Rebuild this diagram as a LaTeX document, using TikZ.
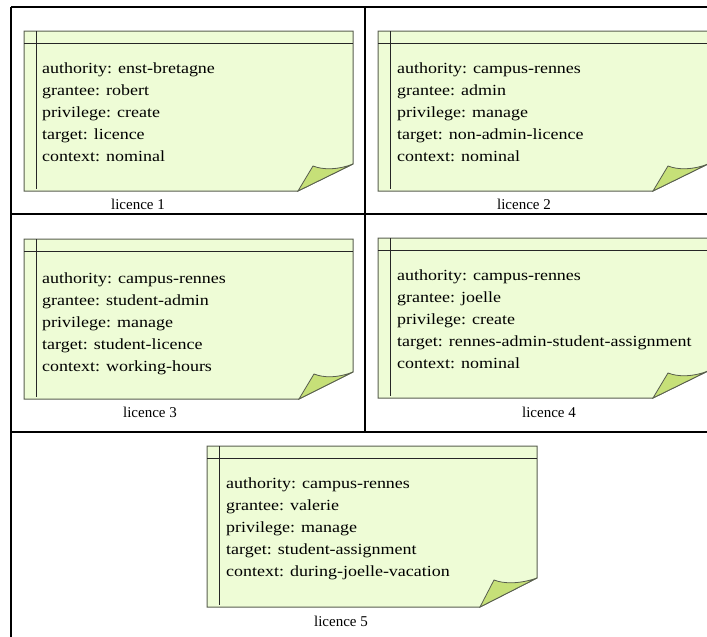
\documentclass[tikz,border=0pt]{standalone}
\usepackage{fontspec}
\setmainfont{Liberation Serif}
\newfontfamily\notefont[FakeStretch=1.16]{Liberation Serif}
\usepackage{tikz}

\definecolor{notefill}{RGB}{238,252,214}
\definecolor{foldfill}{RGB}{198,224,120}
\definecolor{notedraw}{RGB}{88,94,78}

\begin{document}
\begin{tikzpicture} [x = 1pt, y = -1pt,
  cell/.style = {line width = 1.1pt, black},
  notebody/.style = {draw = notedraw, fill = notefill, line width = 1pt},
  noteline/.style = {draw = black!85, line width = 1pt},
  notefold/.style = {draw = notedraw, fill = foldfill, line width = 0.8pt},
  notetext/.style = {anchor = north west, inner sep = 0pt, align = left, font = \notefont\fontsize{15.5}{22}\selectfont},
  notelabel/.style = {anchor = base, inner sep = 0pt, font = \fontsize{15}{18}\selectfont}]
\useasboundingbox (0.0, 0.0) rectangle (707.0, 637.0);
\clip (0.0, 0.0) rectangle (707.0, 637.0);

% table
\draw[cell] (11.0, 7.0) -- (720.0, 7.0);
\draw[cell] (11.0, 7.0) -- (11.0, 650.0);
\draw[cell] (365.0, 7.0) -- (365.0, 432.0);
\draw[cell] (11.0, 214.0) -- (720.0, 214.0);
\draw[cell] (11.0, 432.0) -- (720.0, 432.0);

% licence 1
\draw[notebody] (24.0, 31.0) -- (353.0, 31.0) -- (353.0, 164.0) -- (298.0, 191.0) -- (24.0, 191.0) -- cycle;
\draw[noteline] (24.0, 43.0) -- (353.0, 43.0);
\draw[noteline] (36.0, 31.0) -- (36.0, 189.0);
\draw[notefold] (298.0, 191.0) -- (313.0, 166.0) .. controls (323.0, 170.0) and (338.0, 170.0) .. (353.0, 164.0) -- cycle;
\node[notetext] (lic1) at (42.0, 62.3) {authority: enst-bretagne\\grantee: robert\\privilege: create\\target: licence\\context: nominal};
\node[notelabel] (cap1) at (138.0, 209.0) {licence 1};

% licence 2
\draw[notebody] (378.0, 31.0) -- (708.0, 31.0) -- (708.0, 164.0) -- (653.0, 191.0) -- (378.0, 191.0) -- cycle;
\draw[noteline] (378.0, 43.0) -- (708.0, 43.0);
\draw[noteline] (390.0, 31.0) -- (390.0, 189.0);
\draw[notefold] (653.0, 191.0) -- (668.0, 166.0) .. controls (678.0, 170.0) and (693.0, 170.0) .. (708.0, 164.0) -- cycle;
\node[notetext] (lic2) at (397.0, 62.3) {authority: campus-rennes\\grantee: admin\\privilege: manage\\target: non-admin-licence\\context: nominal};
\node[notelabel] (cap2) at (524.0, 209.0) {licence 2};

% licence 3
\draw[notebody] (24.0, 239.0) -- (353.0, 239.0) -- (353.0, 372.0) -- (299.0, 399.0) -- (24.0, 399.0) -- cycle;
\draw[noteline] (24.0, 251.0) -- (353.0, 251.0);
\draw[noteline] (36.0, 239.0) -- (36.0, 397.0);
\draw[notefold] (299.0, 399.0) -- (314.0, 374.0) .. controls (324.0, 378.0) and (338.0, 378.0) .. (353.0, 372.0) -- cycle;
\node[notetext] (lic3) at (42.0, 272.6) {authority: campus-rennes\\grantee: student-admin\\privilege: manage\\target: student-licence\\context: working-hours};
\node[notelabel] (cap3) at (150.0, 417.0) {licence 3};

% licence 4
\draw[notebody] (378.0, 238.0) -- (708.0, 238.0) -- (708.0, 371.0) -- (653.0, 398.0) -- (378.0, 398.0) -- cycle;
\draw[noteline] (378.0, 250.0) -- (708.0, 250.0);
\draw[noteline] (390.0, 238.0) -- (390.0, 396.0);
\draw[notefold] (653.0, 398.0) -- (668.0, 373.0) .. controls (678.0, 377.0) and (693.0, 377.0) .. (708.0, 371.0) -- cycle;
\node[notetext] (lic4) at (397.0, 269.3) {authority: campus-rennes\\grantee: joelle\\privilege: create\\target: rennes-admin-student-assignment\\context: nominal};
\node[notelabel] (cap4) at (549.0, 417.0) {licence 4};

% licence 5
\draw[notebody] (207.0, 446.0) -- (537.0, 446.0) -- (537.0, 578.0) -- (480.0, 607.0) -- (207.0, 607.0) -- cycle;
\draw[noteline] (207.0, 458.0) -- (537.0, 458.0);
\draw[noteline] (219.0, 446.0) -- (219.0, 605.0);
\draw[notefold] (480.0, 607.0) -- (494.0, 580.0) .. controls (504.0, 584.0) and (520.0, 584.0) .. (537.0, 578.0) -- cycle;
\node[notetext] (lic5) at (226.0, 477.6) {authority: campus-rennes\\grantee: valerie\\privilege: manage\\target: student-assignment\\context: during-joelle-vacation};
\node[notelabel] (cap5) at (341.0, 626.0) {licence 5};
\end{tikzpicture}
\end{document}
